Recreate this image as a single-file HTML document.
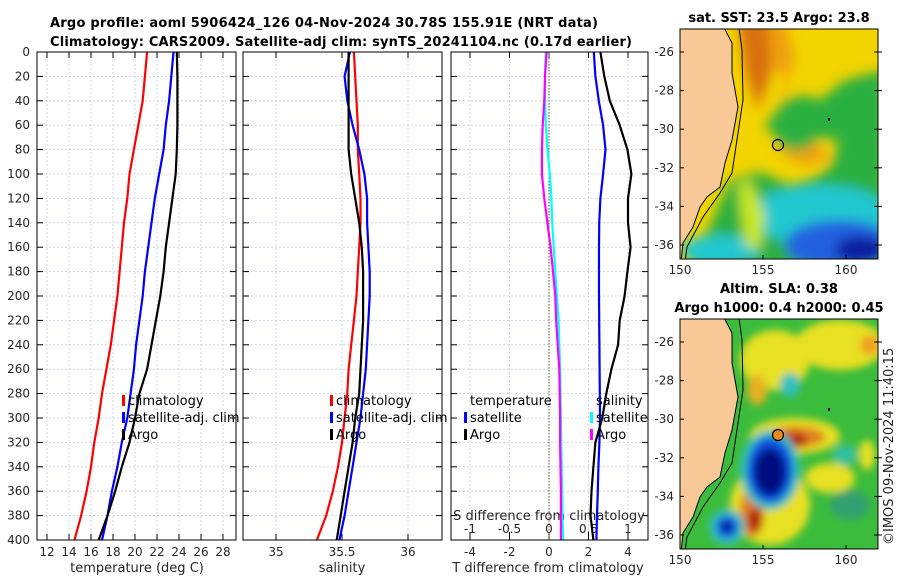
<!DOCTYPE html>
<html><head><meta charset="utf-8"><style>
body{margin:0;background:#fff;}
svg{display:block;font-family:"DejaVu Sans","Liberation Sans",sans-serif;}
</style></head><body>
<svg id="c" width="900" height="580" viewBox="0 0 900 580">
<defs>
<filter id="bl" x="-20%" y="-20%" width="140%" height="140%"><feGaussianBlur stdDeviation="6"/></filter>
<filter id="bl2" x="-20%" y="-20%" width="140%" height="140%"><feGaussianBlur stdDeviation="4"/></filter>
<clipPath id="m1"><rect x="680" y="29" width="198" height="230"/></clipPath>
<clipPath id="m2"><rect x="680" y="319" width="198" height="230"/></clipPath>
</defs>
<text x="50" y="27" font-size="13" font-weight="bold" textLength="548">Argo profile: aoml 5906424_126 04-Nov-2024 30.78S 155.91E (NRT data)</text>
<text x="50" y="46" font-size="13" font-weight="bold" textLength="582">Climatology: CARS2009. Satellite-adj clim: synTS_20241104.nc (0.17d earlier)</text>
<g id="plots"></g>
<g>
<text x="779" y="22" font-size="13" font-weight="bold" text-anchor="middle">sat. SST: 23.5 Argo: 23.8</text>
<g clip-path="url(#m1)">
<rect x="680" y="29" width="198" height="230" fill="#f2d400"/>
<g filter="url(#bl)">
<polygon points="735,20 785,20 795,60 780,100 770,125 780,150 800,165 830,160 815,140 790,125 775,110 790,85" fill="#f0a010"/>
<polygon points="738,20 768,20 772,70 758,110 745,70" fill="#d87010"/>
<polygon points="765,125 785,100 805,95 820,100 845,80 885,70 885,270 690,270 730,180 760,172 790,185 815,178 832,165 838,140 820,138 805,150 785,150" fill="#2cb040"/>
<ellipse cx="820" cy="215" rx="70" ry="30" fill="#20c8d0"/>
<ellipse cx="720" cy="250" rx="40" ry="15" fill="#20c8d0"/>
<ellipse cx="840" cy="245" rx="55" ry="25" fill="#2060e0"/>
<ellipse cx="860" cy="250" rx="25" ry="14" fill="#0a1aa0"/>
<polygon points="738,185 750,180 765,215 760,250 745,245" fill="#c8e820"/>
</g>
<polygon points="680,20 720,20 732,43 732,73 738,107 732,140 725,163 720,187 707,197 700,207 693,227 683,243 681,262 680,262" fill="#f8c896" stroke="#000" stroke-width="1"/>
<polyline points="738,20 742,50 743,100 738,133 732,173 720,193 703,217 687,247 685,262" fill="none" stroke="#000" stroke-width="1"/>
<circle cx="778" cy="145" r="5.5" fill="none" stroke="#000" stroke-width="1.2"/>
<rect x="828" y="118" width="2" height="3" fill="#000"/>
</g>
<rect x="680" y="29" width="198" height="230" fill="none" stroke="#000" stroke-width="1"/>
</g>
<g>
<text x="779" y="293" font-size="13" font-weight="bold" text-anchor="middle">Altim. SLA: 0.38</text>
<text x="779" y="312" font-size="13" font-weight="bold" text-anchor="middle">Argo h1000: 0.4 h2000: 0.45</text>
<g clip-path="url(#m2)">
<rect x="680" y="319" width="198" height="230" fill="#3cbc3c"/>
<g filter="url(#bl2)">
<ellipse cx="775" cy="360" rx="35" ry="30" fill="#e8e020"/>
<ellipse cx="840" cy="345" rx="45" ry="25" fill="#e8e020"/>
<ellipse cx="870" cy="345" rx="10" ry="10" fill="#f0a020"/>
<ellipse cx="757" cy="390" rx="10" ry="15" fill="#e8b020"/>
<ellipse cx="790" cy="385" rx="10" ry="12" fill="#30c0c0"/>
<ellipse cx="795" cy="436" rx="45" ry="18" fill="#e8e020"/>
<ellipse cx="795" cy="437" rx="30" ry="11" fill="#e08020"/>
<ellipse cx="795" cy="440" rx="12" ry="7" fill="#b02010"/>
<ellipse cx="770" cy="505" rx="40" ry="40" fill="#e8e020"/>
<ellipse cx="752" cy="512" rx="12" ry="25" fill="#e08020"/>
<ellipse cx="755" cy="520" rx="7" ry="12" fill="#b02010"/>
<ellipse cx="830" cy="478" rx="25" ry="15" fill="#e8e020"/>
<ellipse cx="770" cy="470" rx="30" ry="40" fill="#30c0c0"/>
<ellipse cx="770" cy="470" rx="23" ry="33" fill="#1050e0"/>
<ellipse cx="770" cy="472" rx="16" ry="24" fill="#000880"/>
<ellipse cx="727" cy="527" rx="18" ry="18" fill="#30c0c0"/>
<ellipse cx="727" cy="527" rx="11" ry="11" fill="#1050e0"/>
<ellipse cx="727" cy="527" rx="5" ry="5" fill="#000880"/>
<ellipse cx="850" cy="505" rx="20" ry="15" fill="#30a070"/>
<ellipse cx="845" cy="455" rx="12" ry="10" fill="#30c0a0"/>
<ellipse cx="867" cy="455" rx="8" ry="15" fill="#e8e020"/>
</g>
<polygon points="680,310 720,310 732,333 732,363 738,397 732,430 725,453 720,477 707,487 700,497 693,517 683,533 681,552 680,552" fill="#f8c896" stroke="#000" stroke-width="1"/>
<polyline points="738,310 742,340 743,390 738,423 732,463 720,483 703,507 687,537 685,552" fill="none" stroke="#000" stroke-width="1"/>
<circle cx="778" cy="435" r="5.5" fill="#e88a20" stroke="#000" stroke-width="1.2"/>
<rect x="828" y="408" width="2" height="3" fill="#000"/>
</g>
<rect x="680" y="319" width="198" height="230" fill="none" stroke="#000" stroke-width="1"/>
<text transform="translate(893,545) rotate(-90)" font-size="13" fill="#222">©IMOS 09-Nov-2024 11:40:15</text>
</g>
<g id="mapaxes"></g>
</svg>
<script>
const depths=[0,20,40,60,80,100,120,140,160,180,200,220,240,260,280,300,320,340,360,380,400];
const tempClim=[21.1,20.9,20.7,20.3,19.9,19.5,19.3,19.0,18.8,18.6,18.4,18.1,17.8,17.4,17.0,16.7,16.3,16.0,15.6,15.1,14.5];
const tempSat=[23.5,23.3,23.1,22.8,22.6,22.2,21.8,21.5,21.2,20.9,20.7,20.4,20.1,19.9,19.6,19.3,18.8,18.4,17.9,17.5,17.0];
const tempArgo=[23.8,23.85,23.85,23.85,23.8,23.7,23.4,23.1,22.8,22.6,22.3,21.9,21.5,21.1,20.4,20.0,19.5,18.8,18.2,17.5,16.7];
const salClim=[35.59,35.60,35.61,35.62,35.62,35.63,35.64,35.64,35.63,35.62,35.61,35.59,35.57,35.55,35.54,35.52,35.50,35.47,35.43,35.38,35.31];
const salSat=[35.56,35.52,35.54,35.58,35.63,35.67,35.69,35.69,35.70,35.71,35.71,35.70,35.69,35.68,35.66,35.64,35.61,35.58,35.55,35.52,35.48];
const salArgo=[35.55,35.55,35.55,35.55,35.55,35.57,35.60,35.63,35.65,35.66,35.66,35.66,35.65,35.64,35.63,35.60,35.58,35.55,35.52,35.49,35.46];
const dTsat=[2.27,2.35,2.52,2.74,2.86,2.74,2.6,2.54,2.53,2.53,2.53,2.54,2.55,2.56,2.57,2.58,2.55,2.5,2.47,2.43,2.4];
const dTargo=[2.6,2.8,3.08,3.58,3.97,4.17,4.0,4.0,4.13,3.97,3.83,3.58,3.5,3.16,2.9,2.7,2.35,2.25,2.15,2.1,2.25];
const dSsat=[-0.04,-0.05,-0.05,-0.04,-0.02,0.01,0.03,0.04,0.06,0.08,0.10,0.12,0.13,0.14,0.145,0.15,0.155,0.16,0.165,0.17,0.18];
const dSargo=[-0.03,-0.05,-0.06,-0.08,-0.09,-0.09,-0.06,-0.02,0.02,0.05,0.08,0.09,0.11,0.13,0.135,0.14,0.14,0.145,0.15,0.15,0.15];
const tempTicks=[12,14,16,18,20,22,24,26,28];
const salTicks=[35,35.5,36];
const dTTicks=[-4,-2,0,2,4];
const dSTicks=[-1,-0.5,0,0.5,1];
const depthTicks=[0,20,40,60,80,100,120,140,160,180,200,220,240,260,280,300,320,340,360,380,400];
const latTicks=[-26,-28,-30,-32,-34,-36];
const lonTicks=[150,155,160];

const NS='http://www.w3.org/2000/svg';
const T=52,B=540;
const yD=d=>T+d*(B-T)/400;
const x1=v=>47+(v-12)*11;
const x2=v=>276+(v-35)*132;
const x3T=v=>549+v*19.75;
const x3S=v=>549+v*79;
const G=document.getElementById('plots');
function mk(tag,at,parent){const e=document.createElementNS(NS,tag);for(const k in at)e.setAttribute(k,at[k]);(parent||G).appendChild(e);return e;}
function txt(x,y,s,anchor,size,parent){const e=mk('text',{x:x,y:y,'font-size':size||12,'text-anchor':anchor||'start',fill:'#262626'},parent);e.textContent=s;return e;}

const panels=[{l:37,r:236,name:'temperature'},{l:243,r:442,name:'salinity'},{l:451,r:648,name:'difference'}];
panels.forEach(p=>{
  depthTicks.forEach(d=>{
    const g=mk('line',{x1:p.l,x2:p.r,y1:yD(d),y2:yD(d),stroke:'#c6cbe6','stroke-width':0.8,'stroke-dasharray':'2,2'});
    
    
    const t1=mk('line',{x1:p.l,x2:p.l+6,y1:yD(d),y2:yD(d),stroke:'#000','stroke-width':1});
    
    
    const t2=mk('line',{x1:p.r-6,x2:p.r,y1:yD(d),y2:yD(d),stroke:'#000','stroke-width':1});
    
    
  });
});
depthTicks.forEach(d=>{
  const t=txt(30,yD(d)+4,String(d),'end',12);
  
  
});
function vgrid(vals,fx,lbly){
  vals.forEach(v=>{
    const g=mk('line',{x1:fx(v),x2:fx(v),y1:T,y2:B,stroke:'#c6cbe6','stroke-width':0.8,'stroke-dasharray':'2,2'});
    
    
    const tk=mk('line',{x1:fx(v),x2:fx(v),y1:B-6,y2:B,stroke:'#000','stroke-width':1});
    
    
    const tk2=mk('line',{x1:fx(v),x2:fx(v),y1:T,y2:T+6,stroke:'#000','stroke-width':1});
    
    
    const l=txt(fx(v),lbly,String(v),'middle',12);
    
    
  });
}
vgrid(tempTicks,x1,556);
vgrid(salTicks,x2,556);
vgrid(dTTicks,x3T,556);
dSTicks.forEach(v=>{
  const tk=mk('line',{x1:x3S(v),x2:x3S(v),y1:B-8,y2:B,stroke:'#000','stroke-width':1});
  
  
  const l=txt(x3S(v),533,String(v),'middle',12);
  
  
});
const sl=txt(549,520,'S difference from climatology','middle',13);


const z=mk('line',{x1:x3T(0),x2:x3T(0),y1:T,y2:B,stroke:'#6a5a30','stroke-width':1,'stroke-dasharray':'1.5,1.5'});



function series(vals,fx,color,name){
  const d=vals.map((v,i)=>(i?'L':'M')+fx(v).toFixed(1)+','+yD(depths[i]).toFixed(1)).join('');
  const p=mk('path',{d:d,fill:'none',stroke:color,'stroke-width':2.2,'stroke-linejoin':'round'});
  
  
}
series(tempClim,x1,'#ff0000','temp-climatology-line');
series(tempSat,x1,'#0000ff','temp-satellite-line');
series(tempArgo,x1,'#000000','temp-argo-line');
series(salClim,x2,'#ff0000','sal-climatology-line');
series(salSat,x2,'#0000ff','sal-satellite-line');
series(salArgo,x2,'#000000','sal-argo-line');
series(dSsat,x3S,'#00ffff','sdiff-satellite-line');
series(dSargo,x3S,'#ff00ff','sdiff-argo-line');
series(dTsat,x3T,'#0000ff','tdiff-satellite-line');
series(dTargo,x3T,'#000000','tdiff-argo-line');

panels.forEach(p=>{
  const r=mk('rect',{x:p.l,y:T,width:p.r-p.l,height:B-T,fill:'none',stroke:'#000','stroke-width':1});
  
  
});
function leg(x,y,color,label,nm){
  const m=mk('rect',{x:x,y:y-10,width:3,height:11,fill:color});
  
  
  const t=txt(x+6,y,label,'start',13);
  t.setAttribute('fill','#000');
  
  
}
leg(122,405,'#ff0000','climatology','legend-climatology');
leg(122,422,'#0000ff','satellite-adj. clim','legend-satellite-adj');
leg(122,439,'#000','Argo','legend-argo');
leg(330,405,'#ff0000','climatology','legend-climatology-2');
leg(330,422,'#0000ff','satellite-adj. clim','legend-satellite-adj-2');
leg(330,439,'#000','Argo','legend-argo-2');
const lt=txt(470,405,'temperature','start',13);lt.setAttribute('fill','#000');


leg(464,422,'#0000ff','satellite','legend-t-satellite');
leg(464,439,'#000','Argo','legend-t-argo');
const ls=txt(596,405,'salinity','start',13);ls.setAttribute('fill','#000');


leg(590,422,'#00ffff','satellite','legend-s-satellite');
leg(590,439,'#ff00ff','Argo','legend-s-argo');
[[137,'temperature (deg C)','temperature-axis-title'],[342,'salinity','salinity-axis-title'],[548,'T difference from climatology','t-diff-axis-title']].forEach(a=>{
  const t=txt(a[0],572,a[1],'middle',13);
  
  
});
const MA=document.getElementById('mapaxes');
[[29,52],[319,342]].forEach(m=>{
  const top=m[0],y26=m[1];
  latTicks.forEach(lat=>{
    const y=y26+(-26-lat)*19.3;
    const t=txt(674,y+4,String(lat),'end',12,MA);
    
    
    const a=mk('line',{x1:680,x2:684,y1:y,y2:y,stroke:'#000'},MA);
    
    
    const b=mk('line',{x1:874,x2:882,y1:y,y2:y,stroke:'#000'},MA);
    
    
  });
  lonTicks.forEach(lon=>{
    const x=680+(lon-150)*16.6;
    const t=txt(x,top+245,String(lon),'middle',12,MA);
    
    
    const a=mk('line',{x1:x,x2:x,y1:top+226,y2:top+230,stroke:'#000'},MA);
    
    
  });
});
</script>
</body></html>
